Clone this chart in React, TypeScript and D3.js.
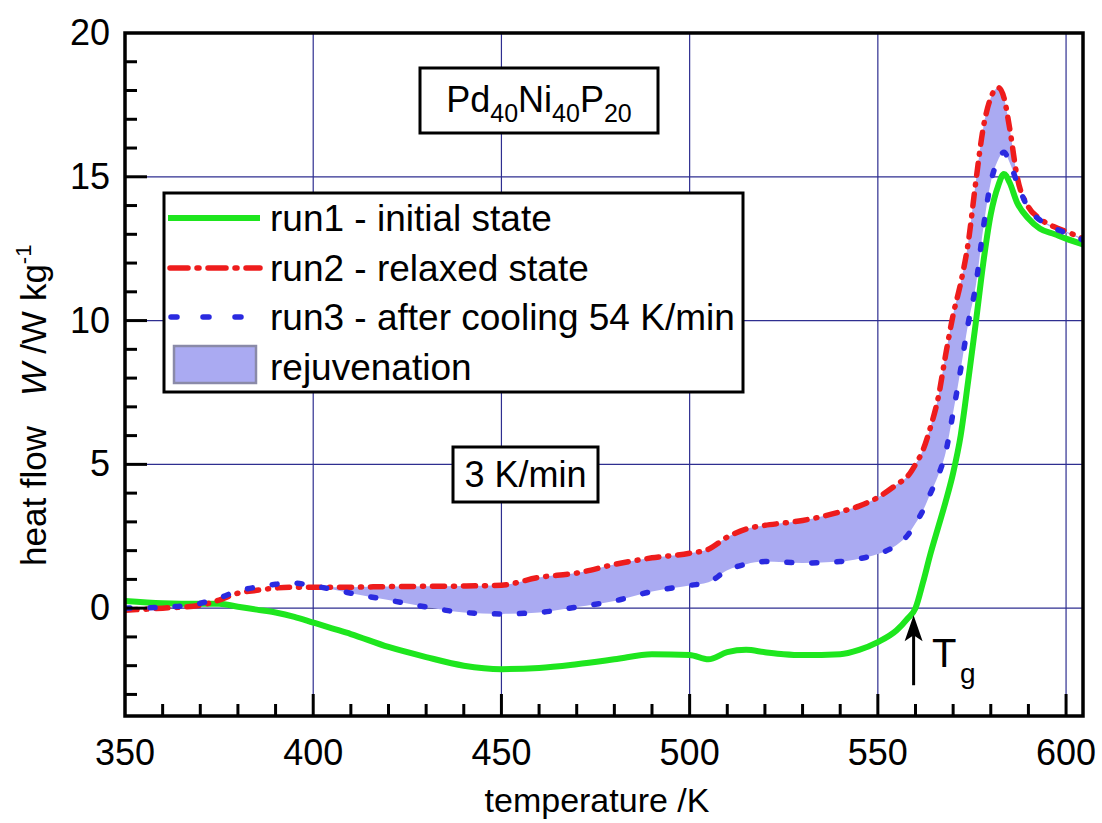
import React from "react";
import * as d3 from "d3";

// temperature grid in K
const temperature = [350, 360, 370, 375, 380, 385, 390, 395, 400, 405, 410, 420, 430, 440, 450, 460, 470, 480, 490, 500, 505, 510, 515, 520, 525, 530, 540, 545, 550, 555, 558, 560, 562, 564, 566, 568, 570, 572, 574, 576, 578, 580, 582, 583.5, 585, 587, 590, 593, 597, 600, 604.5];
// run1 - initial state
const run1 = [0.25, 0.17, 0.15, 0.15, 0.05, -0.05, -0.15, -0.3, -0.5, -0.7, -0.9, -1.35, -1.7, -2.0, -2.12, -2.08, -1.95, -1.78, -1.6, -1.63, -1.78, -1.53, -1.45, -1.53, -1.6, -1.63, -1.6, -1.45, -1.18, -0.77, -0.35, 0.0, 0.9, 1.9, 2.8, 3.7, 4.7, 6.0, 7.9, 9.9, 12.0, 13.7, 14.7, 15.1, 14.8, 14.1, 13.55, 13.2, 13.0, 12.85, 12.65];
// run2 - relaxed state
const run2 = [-0.07, 0.0, 0.1, 0.28, 0.52, 0.62, 0.7, 0.73, 0.73, 0.73, 0.73, 0.75, 0.76, 0.77, 0.8, 1.07, 1.22, 1.52, 1.75, 1.91, 2.05, 2.47, 2.75, 2.88, 2.96, 3.05, 3.35, 3.55, 3.85, 4.3, 4.6, 5.0, 5.5, 6.3, 7.3, 8.8, 10.2, 11.3, 12.7, 14.8, 16.7, 17.75, 18.1, 17.75, 16.7, 15.0, 13.95, 13.55, 13.25, 13.1, 12.85];
// run3 - after cooling 54 K/min
const run3 = [0.0, 0.03, 0.17, 0.35, 0.6, 0.73, 0.83, 0.87, 0.77, 0.66, 0.52, 0.28, 0.04, -0.15, -0.2, -0.15, 0.04, 0.25, 0.58, 0.79, 0.9, 1.32, 1.53, 1.62, 1.6, 1.57, 1.62, 1.72, 1.88, 2.2, 2.55, 2.95, 3.4, 4.0, 4.6, 5.4, 6.8, 8.3, 9.9, 11.2, 13.2, 14.8, 15.6, 15.85, 15.5, 14.8, 13.9, 13.5, 13.2, 13.05, 12.8];

const xTicks = [350, 400, 450, 500, 550, 600];
const yTicks = [0, 5, 10, 15, 20];
const xMinor = [360, 370, 380, 390, 410, 420, 430, 440, 460, 470, 480, 490, 510, 520, 530, 540, 560, 570, 580, 590];
const yMinor = [-3, -2, -1, 1, 2, 3, 4, 6, 7, 8, 9, 11, 12, 13, 14, 16, 17, 18, 19];
const legendLabels = ["run1 - initial state", "run2 - relaxed state", "run3 - after cooling 54 K/min", "rejuvenation"];
const glassTransition = 559.5;

const FONT = "'Liberation Sans', Arial, Helvetica, sans-serif";
const GREEN = "#1ee61e";
const RED = "#ee1c1c";
const BLUE = "#2a2ae0";
const FILL = "#aaaaf2";
const GRID = "#2e2e90";

export default function App() {
  const W = 1102, H = 823;
  const L = 125, R = 1083, T = 33, B = 716;
  const x = d3.scaleLinear().domain([350, 604.5]).range([L, R]);
  const y = d3.scaleLinear().domain([-3.75, 20]).range([B, T]);
  const idx = temperature.map((_, i) => i);
  const lineFor = (arr: number[]) =>
    d3.line<number>().x((i) => x(temperature[i])).y((i) => y(arr[i])).curve(d3.curveMonotoneX)(idx) || "";
  const areaPath =
    d3.area<number>()
      .x((i) => x(temperature[i]))
      .y0((i) => y(run3[i]))
      .y1((i) => y(Math.max(run2[i], run3[i])))
      .curve(d3.curveMonotoneX)(idx) || "";

  const rowY = [218, 268, 317, 367];
  const tgTop = y(-0.25);
  const tgBot = y(-2.68);
  const ax = x(glassTransition);

  return (
    <div style={{ position: "absolute", left: 0, top: 0 }}>
      <svg width={W} height={H} style={{ display: "block", background: "#fff" }} fontFamily={FONT}>
        <defs>
          <clipPath id="plot">
            <rect x={L} y={T} width={R - L} height={B - T} />
          </clipPath>
        </defs>
        {/* grid */}
        <g stroke={GRID} strokeWidth={1.2}>
          {xTicks.filter((t) => t > 350).map((t) => (
            <line key={"gx" + t} x1={x(t)} x2={x(t)} y1={T} y2={B} />
          ))}
          {yTicks.filter((t) => t < 20).map((t) => (
            <line key={"gy" + t} x1={L} x2={R} y1={y(t)} y2={y(t)} />
          ))}
        </g>
        <g clipPath="url(#plot)">
          <path d={areaPath} fill={FILL} stroke="none" />
          <path d={lineFor(run1)} fill="none" stroke={GREEN} strokeWidth={6} strokeLinejoin="round" />
          <path d={lineFor(run2)} fill="none" stroke={RED} strokeWidth={5.5} strokeDasharray="12 9 1 9" strokeLinecap="round" strokeLinejoin="round" />
          <path d={lineFor(run3)} fill="none" stroke={BLUE} strokeWidth={5.5} strokeDasharray="5 20" strokeLinecap="round" strokeLinejoin="round" />
        </g>
        {/* ticks */}
        <g stroke="#000" strokeWidth={3}>
          {xTicks.filter((t) => t > 350).map((t) => (
            <line key={"tx" + t} x1={x(t)} x2={x(t)} y1={B} y2={B - 22} />
          ))}
          {xMinor.map((t) => (
            <line key={"mx" + t} x1={x(t)} x2={x(t)} y1={B} y2={B - 12} />
          ))}
          {yTicks.filter((t) => t < 20).map((t) => (
            <line key={"ty" + t} x1={L} x2={L + 22} y1={y(t)} y2={y(t)} />
          ))}
          {yMinor.map((t) => (
            <line key={"my" + t} x1={L} x2={L + 12} y1={y(t)} y2={y(t)} />
          ))}
        </g>
        <rect x={L} y={T} width={R - L} height={B - T} fill="none" stroke="#000" strokeWidth={3.5} />
        {/* tick labels */}
        <g fontSize={36} fill="#000">
          {xTicks.map((t) => (
            <text key={"lx" + t} x={x(t)} y={765} textAnchor="middle">{t}</text>
          ))}
          {yTicks.map((t) => (
            <text key={"ly" + t} x={110} y={y(t) + 12} textAnchor="end">{t}</text>
          ))}
        </g>
        {/* axis titles */}
        <text x={597} y={812} fontSize={34} textAnchor="middle">temperature /K</text>
        <text transform="translate(46,566) rotate(-90)" fontSize={35}>
          <tspan>heat flow</tspan>
          <tspan dx={30} fontStyle="italic">W</tspan>
          <tspan dx={9}>/W</tspan>
          <tspan dx={10}>kg</tspan>
          <tspan fontSize={22} dy={-15}>-1</tspan>
        </text>
        {/* composition box */}
        <rect x={420} y={68} width={238} height={65} fill="#fff" stroke="#000" strokeWidth={3} />
        <text x={539} y={112} fontSize={36} textAnchor="middle">
          <tspan>Pd</tspan>
          <tspan fontSize={25} dy={10}>40</tspan>
          <tspan dy={-10}>Ni</tspan>
          <tspan fontSize={25} dy={10}>40</tspan>
          <tspan dy={-10}>P</tspan>
          <tspan fontSize={25} dy={10}>20</tspan>
        </text>
        {/* rate box */}
        <rect x={453} y={447} width={145} height={55} fill="#fff" stroke="#000" strokeWidth={3} />
        <text x={525.5} y={487} fontSize={36} textAnchor="middle">3 K/min</text>
        {/* legend */}
        <rect x={164} y={193} width={579} height={199} fill="#fff" stroke="#000" strokeWidth={3} />
        <line x1={168} x2={260} y1={rowY[0]} y2={rowY[0]} stroke={GREEN} strokeWidth={6} />
        <line x1={170} x2={260} y1={rowY[1]} y2={rowY[1]} stroke={RED} strokeWidth={5.5} strokeDasharray="18 9 2 9" strokeLinecap="round" />
        <line x1={171} x2={260} y1={rowY[2]} y2={rowY[2]} stroke={BLUE} strokeWidth={5.5} strokeDasharray="6 26" strokeLinecap="round" />
        <rect x={174} y={346} width={82} height={37} fill={FILL} stroke="#8a8aa8" strokeWidth={2.5} />
        <g fontSize={37} fill="#000">
          {legendLabels.map((s, i) => (
            <text key={s} x={270} y={rowY[i] + 13}>{s}</text>
          ))}
        </g>
        {/* Tg arrow */}
        <line x1={ax} x2={ax} y1={tgBot} y2={tgTop + 18} stroke="#000" strokeWidth={3} />
        <path d={`M${ax},${tgTop} L${ax - 9},${tgTop + 26} L${ax},${tgTop + 20} L${ax + 9},${tgTop + 26} Z`} fill="#000" />
        <text x={932} y={667} fontSize={40}>T</text>
        <text x={960} y={683} fontSize={28}>g</text>
      </svg>
    </div>
  );
}
